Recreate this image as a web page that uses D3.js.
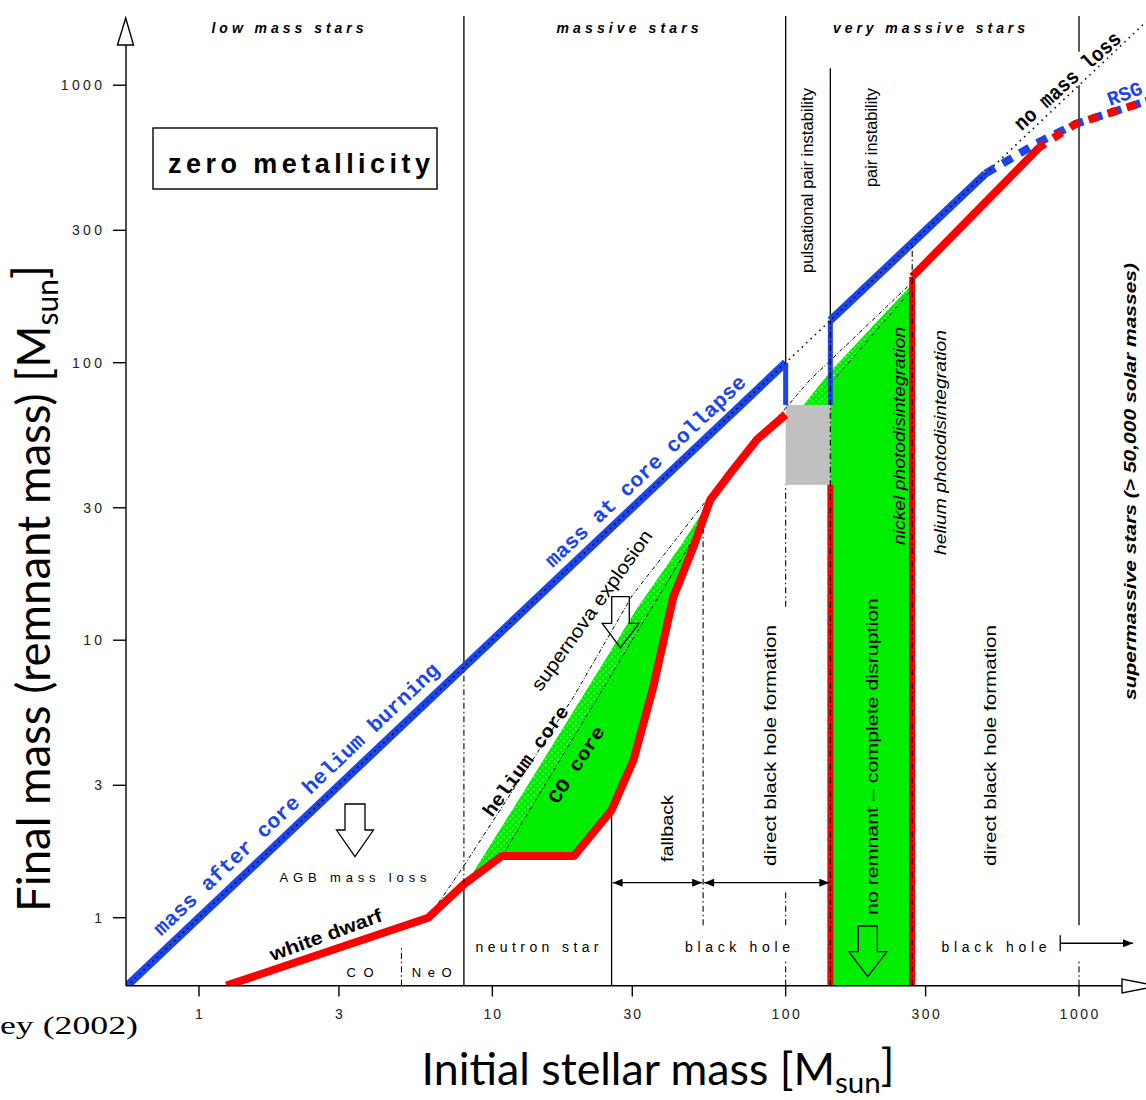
<!DOCTYPE html>
<html>
<head>
<meta charset="utf-8">
<script src="https://cdn.jsdelivr.net/npm/d3@7"></script>
<style>
  body { margin: 0; background: #fff; }
  svg { display: block; }
</style>
</head>
<body>
<svg id="chart" width="1146" height="1100"></svg>
<script>
const xTicks = [1, 3, 10, 30, 100, 300, 1000];
const yTicks = [1, 3, 10, 30, 100, 300, 1000];

// [initial mass, final mass] in solar masses
const heBurningMass = [[0.565, 0.565], [100, 100]];
const ppiDrop = [[100, 100], [100, 70.4]];
const pairJump = [[142, 70.4], [142, 142]];
const collapseMass = [[142, 142], [480, 480]];
const rsgMass = [[480, 480], [718, 618], [970, 724], [1720, 880]];
const remnantMass = [[1.24, 0.569], [6.05, 1.0], [8, 1.32], [10.8, 1.67], [19, 1.67], [25.5, 2.44],
  [30.3, 3.7], [35.4, 6.8], [41.4, 14.3], [48.5, 21.7], [55.3, 32], [66, 41], [80, 53], [100, 65]];
const pisnEdge = [[142, 36.3], [142, 0.569]];
const bhHigh = [[270, 0.569], [270, 204], [736, 600]];
const bhRsg = [[736, 600], [970, 724], [1720, 880]];
const noMassLoss = [[0.565, 0.565], [1800, 1800]];
const heliumCore = [[6.05, 1.0], [7.94, 1.52], [18.9, 6.24], [30, 14.5], [55, 33], [121, 86.7], [270, 195]];
const coCoreLow = [[10.8, 1.67], [50, 24.5]];
const coCoreHigh = [[142, 84], [270, 184]];
const heHatchLow = [[8.3, 1.37], [12.4, 2.7], [19.4, 5.8], [31.1, 13], [44.6, 22.5], [55.3, 32]];
const heHatchHigh = [[115, 70.4], [142, 93], [270, 192]];
const ppiMass = [100, 142];
const ppiGap = [36.3, 70.4];

// vertical guides: [initial mass, final mass from, final mass to]
const solidGuides = [[8, 8, 1775], [8, 0.569, 1.32], [100, 100, 1775], [142, 142, 1150],
  [1000, 1320, 1775], [1000, 0.94, 1000], [25.5, 0.569, 2.44]];
const dashGuides = [[8, 1.32, 8], [4.9, 0.569, 0.78], [52.3, 0.94, 25], [100, 13.2, 36.3],
  [100, 0.94, 1.24], [100, 0.569, 0.705], [1000, 0.569, 0.705], [142, 0.569, 142], [270, 0.569, 265]];
const fateArrows = [[25.5, 52.3], [52.3, 142]];
const fateRow = 1.337;
const bhArrow = [863, 1528];
const bhRow = 0.809;

const BLUE = "#1b45ea";
const RED = "#ff0000";
const GREEN = "#00ee00";
const SANS = '"Liberation Sans", Arial, sans-serif';
const MONO = '"Liberation Mono", "Courier New", monospace';

const svg = d3.select("#chart");
svg.append("rect").attr("width", 1146).attr("height", 1100).attr("fill", "#fff");

const x = d3.scaleLog().domain([1, 1000]).range([199, 1079]);
const y = d3.scaleLog().domain([1, 1000]).range([917.7, 85.2]);
const Y0 = y.invert(985.7);

const line = d3.line().x((d) => x(d[0])).y((d) => y(d[1]));

const defs = svg.append("defs");
defs.append("clipPath").attr("id", "plot")
  .append("rect").attr("x", 126).attr("y", 0).attr("width", 1020).attr("height", 985.7);
const hatch = defs.append("pattern").attr("id", "hatch")
  .attr("width", 6).attr("height", 6).attr("patternUnits", "userSpaceOnUse");
hatch.append("rect").attr("width", 6).attr("height", 6).attr("fill", "#fff");
hatch.append("path").attr("d", "M0,0L6,6M6,0L0,6").attr("stroke", GREEN).attr("stroke-width", 3.2);
defs.append("marker").attr("id", "tri")
  .attr("viewBox", "0 0 10 8").attr("refX", 10).attr("refY", 4)
  .attr("markerWidth", 11).attr("markerHeight", 8).attr("markerUnits", "userSpaceOnUse")
  .attr("orient", "auto-start-reverse")
  .append("path").attr("d", "M0,0L10,4L0,8Z").attr("fill", "#000");

const plot = svg.append("g").attr("clip-path", "url(#plot)");

// green regions
const between = (lo, hi) => remnantMass.filter((d) => d[0] >= lo && d[0] <= hi).reverse();
plot.append("path").datum([...heHatchLow, ...between(8, 55.3)])
  .attr("d", (d) => line(d) + "Z").attr("fill", "url(#hatch)");
plot.append("path").datum([...coCoreLow, ...between(10.8, 49)])
  .attr("d", (d) => line(d) + "Z").attr("fill", GREEN);
plot.append("path").datum([...heHatchHigh, ...coCoreHigh.slice().reverse(), [142, ppiGap[1]]])
  .attr("d", (d) => line(d) + "Z").attr("fill", "url(#hatch)");
plot.append("path").datum([[142, Y0], ...coCoreHigh, [270, Y0]])
  .attr("d", (d) => line(d) + "Z").attr("fill", GREEN);

// pulsational pair instability gap
plot.append("rect")
  .attr("x", x(ppiMass[0])).attr("width", x(ppiMass[1]) - x(ppiMass[0]))
  .attr("y", y(ppiGap[1])).attr("height", y(ppiGap[0]) - y(ppiGap[1]))
  .attr("fill", "#c0c0c0");

// vertical guides
plot.selectAll(".solid-guide").data(solidGuides).enter().append("line")
  .attr("x1", (d) => x(d[0])).attr("x2", (d) => x(d[0]))
  .attr("y1", (d) => y(d[1])).attr("y2", (d) => y(d[2]))
  .attr("stroke", "#000").attr("stroke-width", 1.3);

// core lines
[heliumCore, coCoreLow, coCoreHigh].forEach((pts) => {
  plot.append("path").datum(pts).attr("d", line)
    .attr("fill", "none").attr("stroke", "#000").attr("stroke-width", 1)
    .attr("stroke-dasharray", "4,2,1,2");
});

// red curves
const red = (pts, w) => plot.append("path").datum(pts).attr("d", line)
  .attr("fill", "none").attr("stroke", RED).attr("stroke-width", w)
  .attr("stroke-linejoin", "round");
red(remnantMass, 8);
red(pisnEdge, 6);
red(bhHigh.slice(0, 2), 6);
red(bhHigh.slice(1), 8);

// blue curves
const blue = (pts, w) => plot.append("path").datum(pts).attr("d", line)
  .attr("fill", "none").attr("stroke", BLUE).attr("stroke-width", w);
blue(heBurningMass, 8);
blue(ppiDrop, 5);
blue(pairJump, 5);
blue(collapseMass, 8);
blue(rsgMass, 8).attr("stroke-dasharray", "11,9");
red(bhRsg, 8).attr("stroke-dasharray", "10,10").attr("stroke-dashoffset", 4)
  .attr("stroke-linejoin", "miter");

// dash-dot guides drawn over the coloured curves
plot.selectAll(".dash-guide").data(dashGuides).enter().append("line")
  .attr("x1", (d) => x(d[0])).attr("x2", (d) => x(d[0]))
  .attr("y1", (d) => y(d[1])).attr("y2", (d) => y(d[2]))
  .attr("stroke", "#000").attr("stroke-width", 1.1)
  .attr("stroke-dasharray", "6,3,1.5,3");

// no mass loss line
plot.append("path").datum(noMassLoss).attr("d", line)
  .attr("fill", "none").attr("stroke", "#000").attr("stroke-width", 1.6)
  .attr("stroke-dasharray", "1.5,4.5");

// axes
const axis = svg.append("g").attr("stroke", "#000").attr("stroke-width", 1.4).attr("fill", "none");
axis.append("line").attr("x1", 126).attr("x2", 126).attr("y1", 45).attr("y2", 985.7);
axis.append("line").attr("x1", 126).attr("x2", 1122).attr("y1", 985.7).attr("y2", 985.7);
axis.append("path").attr("d", "M117.5,45L133.5,45L125.7,18Z").attr("fill", "#fff");
axis.append("path").attr("d", "M1122,979L1122,993L1158,986Z").attr("fill", "#fff");
axis.selectAll(".xt").data(xTicks).enter().append("line")
  .attr("x1", (d) => x(d)).attr("x2", (d) => x(d)).attr("y1", 985.7).attr("y2", 996.5);
axis.selectAll(".yt").data(yTicks).enter().append("line")
  .attr("x1", 113).attr("x2", 126).attr("y1", (d) => y(d)).attr("y2", (d) => y(d));

svg.selectAll(".xl").data(xTicks).enter().append("text")
  .attr("x", (d) => x(d)).attr("y", 1019).attr("text-anchor", "middle")
  .attr("textLength", (d) => String(d).length * 10.6 - 3.6).attr("lengthAdjust", "spacing")
  .style("font-family", SANS).style("font-size", "14px").attr("fill", "#222")
  .text((d) => d);
svg.selectAll(".yl").data(yTicks).enter().append("text")
  .attr("x", 102).attr("y", (d) => y(d) + 5).attr("text-anchor", "end")
  .attr("textLength", (d) => String(d).length * 11.2 - 3.6).attr("lengthAdjust", "spacing")
  .style("font-family", SANS).style("font-size", "14px").attr("fill", "#222")
  .text((d) => d);

// generic label helper
const label = (str, px, py, o = {}) => {
  const t = svg.append("text")
    .attr("transform", `translate(${px},${py}) rotate(${o.angle || 0})`)
    .attr("text-anchor", o.anchor || "middle")
    .style("font-family", o.font || SANS)
    .style("font-size", (o.size || 13) + "px")
    .style("font-weight", o.weight || "normal")
    .style("font-style", o.style || "normal")
    .attr("fill", o.color || "#000")
    .text(str);
  if (o.len) t.attr("textLength", o.len).attr("lengthAdjust", o.adjust || "spacing");
  return t;
};

// region headers
label("low mass stars", 287.5, 33, { size: 14, weight: "bold", style: "italic", len: 152 });
label("massive stars", 627.5, 33, { size: 14, weight: "bold", style: "italic", len: 142 });
label("very massive stars", 929, 33, { size: 14, weight: "bold", style: "italic", len: 192 });

svg.append("rect").attr("x", 153).attr("y", 128).attr("width", 284).attr("height", 61)
  .attr("fill", "#fff").attr("stroke", "#000").attr("stroke-width", 1.4);
label("zero metallicity", 299, 173, { size: 27, weight: "bold", len: 262 });

// curve labels
const mono = { font: MONO, weight: "bold", adjust: "spacingAndGlyphs" };
label("mass after core helium burning", 301, 804, Object.assign({ size: 21, color: BLUE, angle: -43.5, len: 385 }, mono));
label("mass at core collapse", 650, 476, Object.assign({ size: 21, color: BLUE, angle: -43.5, len: 268 }, mono));
label("no mass loss", 1072, 86, Object.assign({ size: 21, angle: -42, len: 136 }, mono));
label("RSG", 1110, 106, Object.assign({ size: 20, color: BLUE, angle: -20, anchor: "start", len: 36 }, mono));
label("white dwarf", 328, 941, { size: 19, weight: "bold", angle: -20, len: 118, adjust: "spacingAndGlyphs" });
label("helium core", 530.7, 764.6, Object.assign({ size: 19, angle: -54, len: 132 }, mono));
label("CO core", 581.5, 768, Object.assign({ size: 19, angle: -57, len: 88 }, mono));
label("supernova explosion", 597, 614, { size: 19, angle: -54.3, len: 193, adjust: "spacingAndGlyphs" });

// remnant labels
label("AGB mass loss", 353, 882, { size: 13, len: 147 });
label("CO", 360, 977, { size: 13, len: 27 });
label("NeO", 431.7, 977, { size: 13, len: 40 });
label("neutron star", 537, 952, { size: 14, len: 123 });
label("black hole", 737.5, 952, { size: 14, len: 105 });
label("black hole", 994, 952, { size: 14, len: 105 });

// vertical labels
const vlabel = (str, px, cy, len, o = {}) =>
  label(str, px, cy, Object.assign({ size: 17, angle: -90, len: len, adjust: "spacingAndGlyphs" }, o));
vlabel("pulsational pair instability", 813, 180.5, 185);
vlabel("pair instability", 877, 137.5, 99);
vlabel("nickel photodisintegration", 905, 436, 218, { style: "italic" });
vlabel("helium photodisintegration", 946, 442.5, 225, { style: "italic" });
vlabel("supermassive stars (> 50,000 solar masses)", 1136, 481.5, 437, { style: "italic", weight: "bold" });
vlabel("direct black hole formation", 776, 745.5, 241);
vlabel("direct black hole formation", 996, 745.5, 241);
vlabel("no remnant  \u2013  complete disruption", 878, 756.5, 317);
vlabel("fallback", 673, 828.5, 67);

// open arrows
const openArrow = (cx, top, headY, tip, sw, hw) => {
  svg.append("path")
    .attr("d", `M${cx - sw / 2},${top}L${cx + sw / 2},${top}L${cx + sw / 2},${headY}L${cx + hw / 2},${headY}` +
      `L${cx},${tip}L${cx - hw / 2},${headY}L${cx - sw / 2},${headY}Z`)
    .attr("fill", "none").attr("stroke", "#000").attr("stroke-width", 1.3);
};
openArrow(355, 804, 830, 856.7, 20, 37);
openArrow(620.5, 596.7, 623.3, 648, 17.6, 36.6);
openArrow(867.8, 926, 951.7, 976.7, 19, 38);

// fate arrows
svg.selectAll(".fate").data(fateArrows).enter().append("line")
  .attr("x1", (d) => x(d[0]) + 1).attr("x2", (d) => x(d[1]) - 1)
  .attr("y1", y(fateRow)).attr("y2", y(fateRow))
  .attr("stroke", "#000").attr("stroke-width", 1.3)
  .attr("marker-start", "url(#tri)").attr("marker-end", "url(#tri)");
svg.append("line")
  .attr("x1", x(bhArrow[0])).attr("x2", x(bhArrow[1]))
  .attr("y1", y(bhRow)).attr("y2", y(bhRow))
  .attr("stroke", "#000").attr("stroke-width", 1.3).attr("marker-end", "url(#tri)");
svg.append("line")
  .attr("x1", x(bhArrow[0])).attr("x2", x(bhArrow[0]))
  .attr("y1", y(bhRow) - 8).attr("y2", y(bhRow) + 8)
  .attr("stroke", "#000").attr("stroke-width", 1.3);

// reference
label("ey (2002)", 0, 1034, { font: '"Liberation Serif", serif', size: 25, anchor: "start", len: 138, adjust: "spacingAndGlyphs" });

// axis titles
const fitWidth = (t, target) => {
  const w = t.node().getBBox().width;
  const fs = parseFloat(t.style("font-size"));
  t.style("font-size", (fs * target) / w + "px");
};
const title = (px, py, angle, main) => {
  const t = svg.append("text")
    .attr("transform", `translate(${px},${py}) rotate(${angle})`)
    .attr("text-anchor", "middle")
    .style("font-family", "Lato, 'Open Sans', sans-serif")
    .style("font-size", "40px")
    .attr("fill", "#000");
  t.append("tspan").text(main);
  t.append("tspan").attr("dy", "0.28em").style("font-size", "66%").text("sun");
  t.append("tspan").attr("dy", "-0.28em").text("]");
  return t;
};
fitWidth(title(658, 1085, 0, "Initial stellar mass [M"), 473);
fitWidth(title(50, 588.5, -90, "Final mass (remnant mass) [M"), 647);
</script>
</body>
</html>
